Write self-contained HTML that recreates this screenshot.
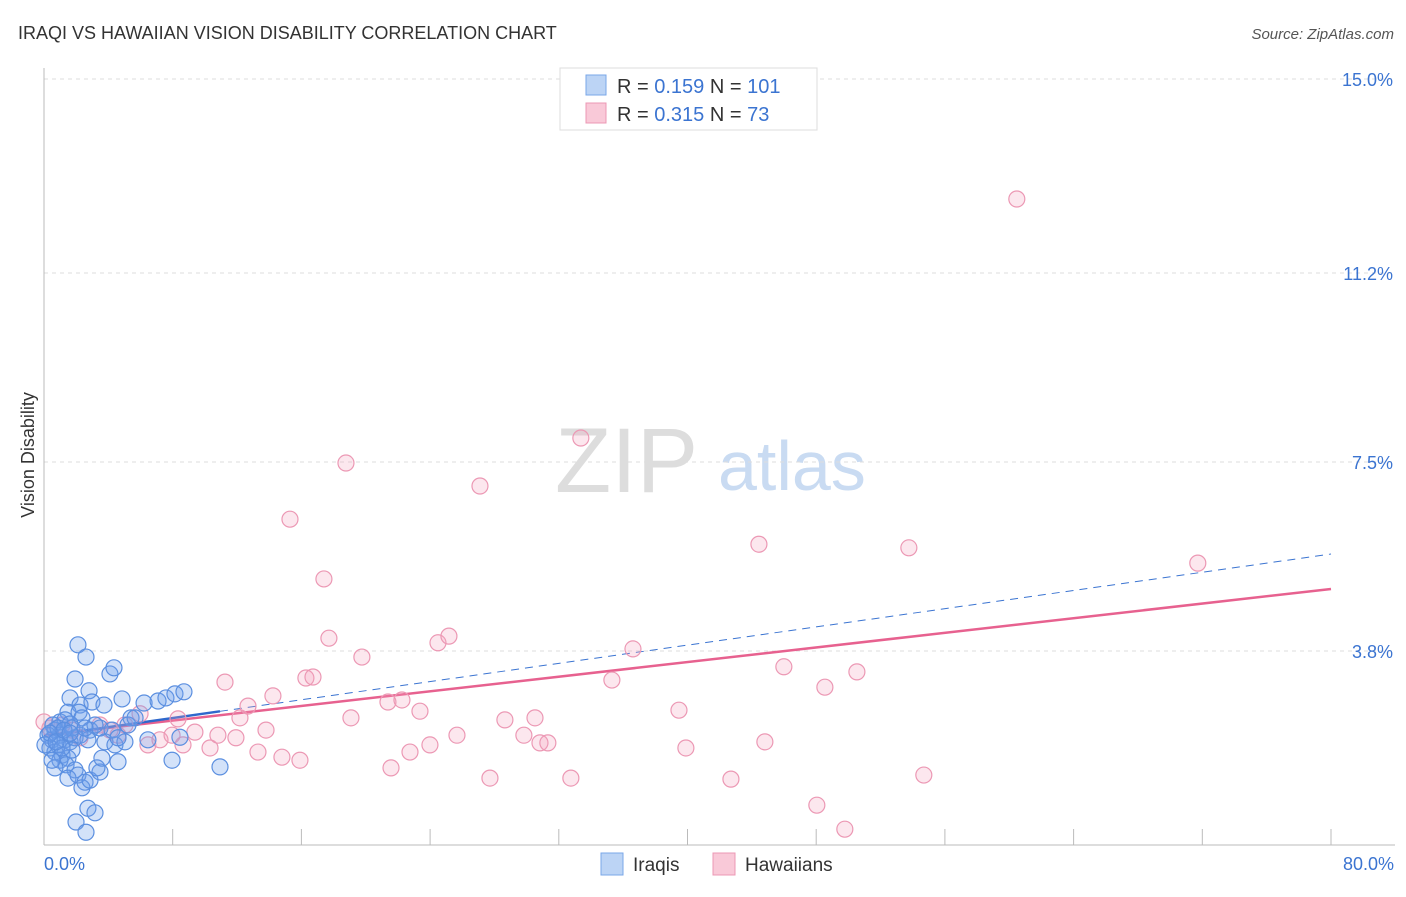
<!DOCTYPE html>
<html><head><meta charset="utf-8"><style>
body{margin:0;background:#fff;font-family:"Liberation Sans",sans-serif;}
svg text{font-family:"Liberation Sans",sans-serif;}
</style></head><body>
<svg id="chart" width="1406" height="892" xmlns="http://www.w3.org/2000/svg">
<text x="18" y="39" font-size="18" fill="#333">IRAQI VS HAWAIIAN VISION DISABILITY CORRELATION CHART</text>
<text x="1394" y="39" font-size="15" fill="#555" font-style="italic" text-anchor="end">Source: ZipAtlas.com</text>
<text x="555" y="492" font-size="92" fill="#ddd" font-family="Liberation Serif">ZIP</text>
<text x="718" y="490" font-size="70" fill="#c9dbf2">atlas</text>
<text transform="translate(34,455) rotate(-90)" font-size="18" fill="#333" text-anchor="middle">Vision Disability</text>
<g id="grid"></g><g id="axes"></g><g id="trend"></g><g id="pts"></g>
<g>
<rect x="560" y="68" width="257" height="62" fill="#fff" stroke="#ddd"/>
<rect x="586" y="75" width="20" height="20" fill="#bcd4f5" stroke="#7aa7e8"/>
<rect x="586" y="103" width="20" height="20" fill="#f9c9d8" stroke="#ec98b4"/>
<text x="617" y="93" font-size="20" fill="#333">R = <tspan fill="#3b74d1">0.159</tspan>   N = <tspan fill="#3b74d1">101</tspan></text>
<text x="617" y="121" font-size="20" fill="#333">R = <tspan fill="#3b74d1">0.315</tspan>   N =   <tspan fill="#3b74d1">73</tspan></text>
</g>
<g>
<rect x="601" y="853" width="22" height="22" fill="#bcd4f5" stroke="#7aa7e8"/>
<text x="633" y="871" font-size="19" fill="#333">Iraqis</text>
<rect x="713" y="853" width="22" height="22" fill="#f9c9d8" stroke="#ec98b4"/>
<text x="745" y="871" font-size="19" fill="#333">Hawaiians</text>
</g>
</svg>
<script>
const yTicks=[3.8,7.5,11.2,15.0];
const yTickLabels=["3.8%","7.5%","11.2%","15.0%"];
const xTicks=[0,8,16,24,32,40,48,56,64,72,80];
const xEndLabels=["0.0%","80.0%"];
const iraqiX=[2.11,2.61,1.93,2.80,1.62,2.24,2.98,1.49,2.18,2.36,4.10,4.35,4.85,3.73,5.41,6.22,7.09,7.58,8.14,8.70,0.99,1.31,1.62,0.68,0.99,0.50,0.87,1.31,1.62,1.93,0.37,0.68,1.12,1.49,1.74,2.24,2.86,3.48,3.79,4.41,5.03,6.46,8.45,2.73,3.17,0.99,1.37,1.93,0.68,1.49,2.11,2.55,2.36,2.86,3.48,3.29,4.60,7.96,10.94,2.73,3.17,1.99,2.61,3.60,0.56,0.25,0.87,1.12,1.74,2.55,0.50,0.06,0.37,0.75,1.24,1.62,4.23,4.60,5.22,5.66];
const iraqiY=[3.92,3.68,3.25,3.02,2.88,2.74,2.80,2.60,2.60,2.49,3.35,3.47,2.86,2.74,2.49,2.78,2.82,2.88,2.96,3.00,2.41,2.45,2.37,2.25,2.15,2.06,1.96,2.06,2.02,2.10,1.90,1.82,1.76,1.70,1.86,2.15,2.25,2.29,2.02,1.96,2.02,2.06,2.11,2.06,2.35,1.66,1.57,1.47,1.51,1.31,1.37,1.23,1.12,1.27,1.43,1.51,1.63,1.66,1.53,0.72,0.63,0.45,0.25,1.70,2.35,2.15,2.29,1.90,2.29,2.29,1.66,1.96,2.19,2.02,2.25,2.19,2.25,2.10,2.35,2.49];
const hawX=[0,0.37,1.12,1.74,2.24,3.48,4.10,4.60,5.03,5.97,6.46,7.21,7.96,8.33,8.64,9.38,10.32,10.81,11.25,11.93,12.18,12.68,13.30,13.80,14.23,14.79,15.29,15.91,16.28,16.72,17.40,17.71,18.77,19.08,19.76,21.38,21.57,22.25,22.75,23.37,23.99,24.49,25.17,25.67,27.10,27.72,28.65,29.83,30.52,30.83,31.32,32.75,33.37,35.30,36.61,39.47,39.90,42.70,44.44,44.81,45.99,48.04,48.54,49.78,50.53,53.76,54.69,60.47,71.72];
const hawY=[2.41,2.29,2.35,2.25,2.10,2.35,2.25,2.15,2.35,2.57,1.96,2.06,2.15,2.47,1.96,2.21,1.90,2.15,3.19,2.10,2.49,2.72,1.82,2.25,2.92,1.72,6.38,1.66,3.27,3.29,5.21,4.05,7.48,2.49,3.68,2.80,1.51,2.84,1.82,2.62,1.96,3.96,4.09,2.15,7.03,1.31,2.45,2.15,2.49,2.00,2.00,1.31,7.97,3.23,3.84,2.64,1.90,1.29,5.89,2.02,3.49,0.78,3.09,0.31,3.39,5.82,1.37,12.65,5.52];
const iraqiTrend=[2.13,0.0446];
const hawTrend=[2.15,0.0358];
const NS="http://www.w3.org/2000/svg";
const X0=44,X1=1331,Y0=845;
const sx=v=>X0+(X1-X0)*v/80;
const sy=v=>Y0-(Y0-79)*v/15;
function mk(tag,attrs,parent){const e=document.createElementNS(NS,tag);for(const k in attrs)e.setAttribute(k,attrs[k]);document.getElementById(parent).appendChild(e);return e;}
yTicks.forEach((t,i)=>{
 const l=mk('line',{x1:44,x2:1395,y1:sy(t),y2:sy(t),stroke:'#ddd','stroke-dasharray':'4,4'},'grid');
 
 
 const tx=mk('text',{x:1393,y:sy(t)+7,'text-anchor':'end','font-size':18,fill:'#3b74d1'},'grid');
 tx.textContent=yTickLabels[i];
 
 
});
const ax=mk('line',{x1:44,x2:1395,y1:Y0,y2:Y0,stroke:'#bbb'},'axes');


const ay=mk('line',{x1:44,x2:44,y1:68,y2:Y0,stroke:'#bbb'},'axes');


xTicks.slice(1).forEach(t=>{
 const l=mk('line',{x1:sx(t),x2:sx(t),y1:Y0,y2:Y0-16,stroke:'#bbb'},'axes');
 
 
});
const xl0=mk('text',{x:44,y:870,'font-size':18,fill:'#3b74d1'},'axes');xl0.textContent=xEndLabels[0];


const xl1=mk('text',{x:1394,y:870,'font-size':18,fill:'#3b74d1','text-anchor':'end'},'axes');xl1.textContent=xEndLabels[1];


function dot(x,y,fill,stroke,name){
 const c=mk('circle',{cx:sx(x),cy:sy(y),r:8,fill:fill,stroke:stroke,'stroke-width':1.2},'pts');
 
 
}
hawX.forEach((x,i)=>dot(x,hawY[i],'rgba(244,160,188,0.25)','#ec98b4','hawaiian-point'));
iraqiX.forEach((x,i)=>dot(x,iraqiY[i],'rgba(110,160,235,0.3)','#5b8fe0','iraqi-point'));
const bMax=Math.max(...iraqiX);
const t1=mk('line',{x1:sx(bMax),y1:sy(iraqiTrend[0]+iraqiTrend[1]*bMax),x2:sx(80),y2:sy(iraqiTrend[0]+iraqiTrend[1]*80),stroke:'#3b74d1','stroke-width':1,'stroke-dasharray':'8,6'},'trend');


const t3=mk('line',{x1:sx(0),y1:sy(hawTrend[0]),x2:sx(80),y2:sy(hawTrend[0]+hawTrend[1]*80),stroke:'#e7618f','stroke-width':2.5},'trend');


const t2=mk('line',{x1:sx(0),y1:sy(iraqiTrend[0]),x2:sx(bMax),y2:sy(iraqiTrend[0]+iraqiTrend[1]*bMax),stroke:'#2f68cc','stroke-width':2.5},'trend');


</script>
</body></html>
